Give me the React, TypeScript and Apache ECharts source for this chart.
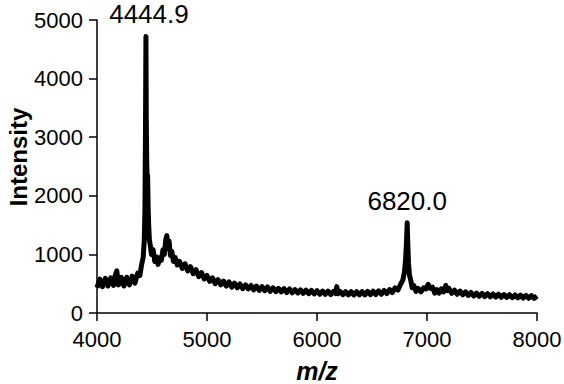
import React, { useEffect, useRef } from "react";
import * as echarts from "echarts";

const mzValues: number[] = [
  4000, 4025, 4050, 4075, 4100, 4125, 4150, 4165, 4180, 4195, 4220, 4245, 4270, 4295, 4320, 4345, 4370, 4390, 4405, 4420,
  4430, 4436, 4441, 4444.9, 4448, 4452, 4456, 4460, 4465, 4470, 4476, 4485, 4495, 4510, 4525, 4540, 4555, 4570, 4585, 4600,
  4612, 4625, 4635, 4645, 4655, 4668, 4680, 4695, 4710, 4730, 4750, 4775, 4800, 4825, 4850, 4875, 4900, 4925, 4950, 4975,
  5000, 5025, 5050, 5075, 5100, 5125, 5150, 5175, 5200, 5225, 5250, 5275, 5300, 5325, 5350, 5375, 5400, 5425, 5450, 5475,
  5500, 5525, 5550, 5575, 5600, 5625, 5650, 5675, 5700, 5725, 5750, 5775, 5800, 5825, 5850, 5875, 5900, 5925, 5950, 5975,
  6000, 6025, 6050, 6075, 6100, 6125, 6150, 6170, 6180, 6190, 6210, 6235, 6260, 6285, 6310, 6335, 6360, 6385, 6410, 6435,
  6460, 6485, 6510, 6535, 6560, 6585, 6610, 6635, 6660, 6685, 6710, 6735, 6760, 6780, 6795, 6805, 6812, 6820, 6826, 6832,
  6840, 6852, 6865, 6880, 6900, 6920, 6945, 6970, 6990, 7010, 7030, 7050, 7070, 7090, 7110, 7130, 7150, 7170, 7185, 7200,
  7225, 7250, 7275, 7300, 7325, 7350, 7375, 7400, 7425, 7450, 7475, 7500, 7525, 7550, 7575, 7600, 7625, 7650, 7675, 7700,
  7725, 7750, 7775, 7800, 7825, 7850, 7875, 7900, 7925, 7950, 7975, 8000,
];

const intensityValues: number[] = [
  430, 580, 450, 590, 460, 600, 470, 640, 720, 480, 610, 460, 610, 480, 630, 510, 680, 640, 820, 950,
  1250, 1800, 3200, 4720, 3300, 2600, 2200, 2350, 1800, 1500, 1250, 1150, 1000, 1080, 880, 960, 830, 940, 900, 1080,
  1000, 1250, 1320, 1100, 1230, 980, 1050, 880, 950, 820, 880, 760, 840, 720, 790, 670, 740, 620, 690, 580,
  640, 540, 600, 500, 570, 480, 545, 460, 530, 440, 510, 430, 495, 415, 480, 410, 470, 395, 460, 385,
  450, 380, 445, 370, 430, 365, 420, 360, 415, 350, 410, 345, 400, 340, 395, 335, 390, 330, 385, 325,
  380, 320, 375, 318, 372, 315, 370, 330, 450, 330, 368, 312, 366, 310, 365, 308, 364, 308, 366, 310,
  368, 312, 372, 315, 378, 320, 385, 330, 400, 350, 430, 390, 490, 560, 700, 900, 1150, 1540, 1150, 850,
  650, 560, 430, 470, 370, 420, 360, 430, 410, 490, 420, 440, 340, 400, 340, 410, 360, 470, 380, 420,
  335, 390, 320, 375, 310, 360, 300, 350, 290, 340, 285, 335, 280, 330, 275, 325, 272, 320, 268, 315,
  265, 312, 262, 308, 258, 305, 255, 300, 252, 296, 250, 290,
];

const peakLabels: string[] = ["4444.9", "6820.0"];
const peakPositions: number[] = [4444.9, 6820];
const peakHeights: number[] = [4720, 1540];

const xTicks: number[] = [4000, 5000, 6000, 7000, 8000];
const yTicks: number[] = [0, 1000, 2000, 3000, 4000, 5000];

export default function App() {
  const ref = useRef<HTMLDivElement>(null);
  useEffect(() => {
    if (!ref.current) return;
    const chart = echarts.init(ref.current, null, { renderer: "svg" });
    const font = "'Liberation Sans', Arial, Helvetica, sans-serif";
    const data = mzValues.map((m, i) => [m, intensityValues[i]]);
    chart.setOption({
      animation: false,
      backgroundColor: "#ffffff",
      grid: { left: 97, right: 27, top: 20, bottom: 71, containLabel: false, outerBoundsMode: "none" },
      graphic: [
        {
          type: "text",
          x: 18,
          y: 157,
          rotation: Math.PI / 2,
          style: {
            text: "Intensity",
            fontFamily: font,
            fontSize: 24,
            fontWeight: "bold",
            fill: "#000",
            textAlign: "center",
            textVerticalAlign: "middle",
          },
        },
      ],
      xAxis: {
        type: "value",
        min: xTicks[0],
        max: xTicks[xTicks.length - 1],
        interval: 1000,
        name: "m/z",
        nameLocation: "middle",
        nameGap: 45,
        nameTextStyle: { fontFamily: font, fontSize: 25, fontWeight: "bold", fontStyle: "italic", color: "#000" },
        axisLine: { show: true, onZero: false, lineStyle: { color: "#000", width: 1.5 } },
        axisTick: { show: true, length: 8, lineStyle: { color: "#000", width: 1.5 } },
        axisLabel: { fontFamily: font, fontSize: 22, color: "#000", margin: 15, formatter: (v: number) => String(v) },
        splitLine: { show: false },
      },
      yAxis: {
        type: "value",
        min: yTicks[0],
        max: yTicks[yTicks.length - 1],
        interval: 1000,
        axisLine: { show: true, lineStyle: { color: "#000", width: 1.5 } },
        axisTick: { show: true, length: 8, lineStyle: { color: "#000", width: 1.5 } },
        axisLabel: { fontFamily: font, fontSize: 22, color: "#000", margin: 14, formatter: (v: number) => String(v) },
        splitLine: { show: false },
      },
      series: [
        {
          type: "line",
          data,
          showSymbol: false,
          symbol: "none",
          lineStyle: { color: "#000", width: 5, join: "round" },
          markPoint: {
            symbol: "circle",
            symbolSize: 0,
            label: {
              show: true,
              position: "top",
              distance: 9,
              fontFamily: font,
              fontSize: 26,
              color: "#000",
              formatter: (p: any) => p.name,
            },
            data: peakLabels.map((n, i) => ({
              name: n,
              coord: [peakPositions[i], peakHeights[i]],
              label: i === 0 ? { offset: [3, 0] } : {},
            })),
          },
        },
      ],
    });
    return () => chart.dispose();
  }, []);
  return <div ref={ref} style={{ position: "absolute", left: 0, top: 0, width: 564, height: 384 }} />;
}
